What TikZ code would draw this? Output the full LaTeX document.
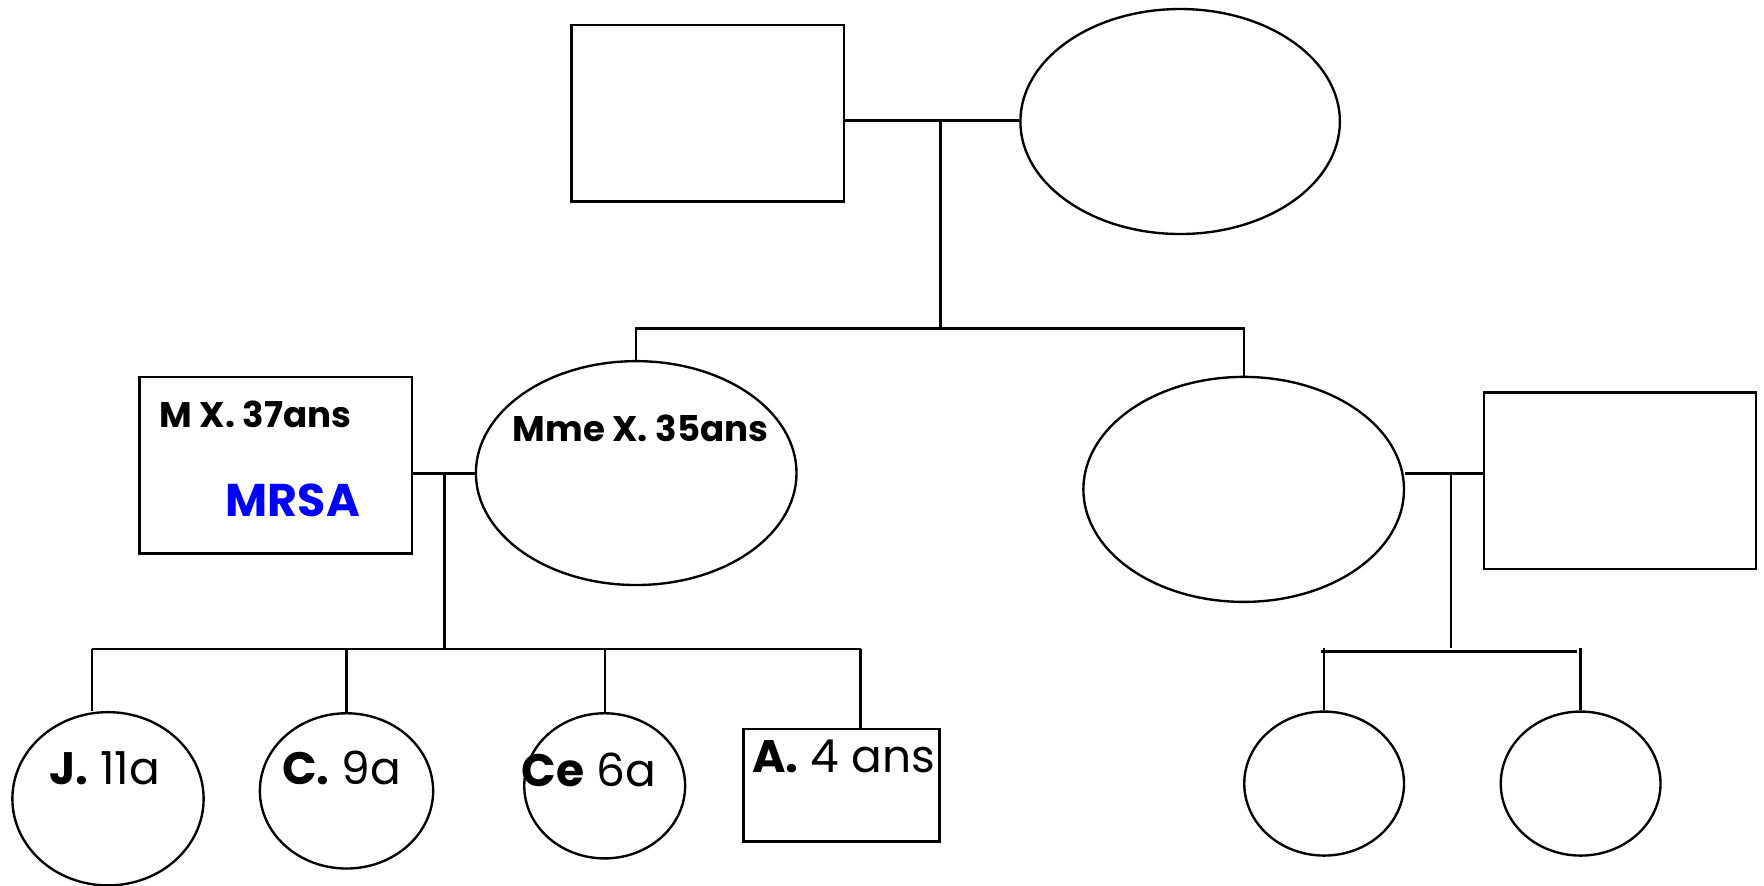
\documentclass[tikz,border=0pt]{standalone}
\usepackage{fontspec}
\setmainfont{Poppins}
\usetikzlibrary{shapes.geometric}
\tikzset{
  homme/.style={rectangle, draw=black, line width=0.6pt, inner sep=0pt},
  femme/.style={ellipse, draw=black, line width=0.6pt, inner sep=0pt},
  lien/.style={line width=0.6pt},
  nom/.style={anchor=base west, inner sep=0pt, font=\bfseries\fontsize{9}{11}\selectfont},
  enfant/.style={anchor=base west, inner sep=0pt, font=\fontsize{11.5}{13}\selectfont}
}
\begin{document}
\begin{tikzpicture}
\useasboundingbox (0,0) rectangle (15.68,-7.87);
% grands-parents
\node[homme, minimum width=2.42cm, minimum height=1.57cm] (gpere) at (6.29,-1.005) {};
\node[femme, minimum width=2.84cm, minimum height=2cm] (gmere) at (10.49,-1.08) {};
\coordinate (u1) at (8.36,-1.07);
\coordinate (f1) at (8.36,-2.92);
\draw[lien] (gpere.east |- u1) -- (gmere.west |- u1);
\draw[lien] (u1) -- (f1);
% couple X. et couple de droite
\node[homme, minimum width=2.42cm, minimum height=1.57cm] (mx) at (2.45,-4.135) {};
\node[femme, minimum width=2.85cm, minimum height=1.99cm] (mme) at (5.655,-4.205) {};
\node[femme, minimum width=2.85cm, minimum height=2cm] (tante) at (11.055,-4.35) {};
\node[homme, minimum width=2.42cm, minimum height=1.57cm] (oncle) at (14.40,-4.275) {};
\draw[lien] (mme.north) -- (mme.north |- f1) -- (tante.north |- f1) -- (tante.north);
\node[nom] (tmx) at (1.41,-3.80) {M X. 37ans};
\node[nom, font=\bfseries\fontsize{11.6}{13}\selectfont, text={rgb,255:red,0;green,0;blue,255}] (mrsa) at (2.00,-4.59) {MRSA};
\node[nom] (tmme) at (4.55,-3.92) {Mme X. 35ans};
\coordinate (u2) at (3.95,-4.21);
\coordinate (f2) at (3.95,-5.77);
\draw[lien] (mx.east |- u2) -- (mme.west |- u2);
\draw[lien] (u2) -- (f2);
\coordinate (u3) at (12.90,-4.21);
\coordinate (f3) at (12.90,-5.76);
\draw[lien] (tante.east |- u3) -- (oncle.west |- u3);
\draw[lien] (u3) -- (f3);
% enfants X.
\node[femme, minimum width=1.70cm, minimum height=1.54cm] (j) at (0.96,-7.10) {};
\node[femme, minimum width=1.54cm, minimum height=1.38cm] (c) at (3.08,-7.03) {};
\node[femme, minimum width=1.43cm, minimum height=1.29cm] (ce) at (5.375,-6.985) {};
\node[homme, minimum width=1.74cm, minimum height=1cm] (a) at (7.48,-6.98) {};
\coordinate (bj) at (0.82,-5.77);
\coordinate (ba) at (7.65,-5.77);
\draw[lien] (bj) -- (ba);
\draw[lien] (bj) -- (bj |- j.north);
\draw[lien] (c.north |- f2) -- (c.north);
\draw[lien] (ce.north |- f2) -- (ce.north);
\draw[lien] (ba) -- (ba |- a.north);
\node[enfant] (tj) at (0.43,-6.97) {\textbf{J.} 11a};
\node[enfant] (tc) at (2.50,-6.97) {\textbf{C.} 9a};
\node[enfant] (tce) at (4.63,-6.99) {\textbf{Ce} 6a};
\node[enfant] (ta) at (6.68,-6.87) {\textbf{A.} 4 ans};
% enfants de droite
\node[femme, minimum width=1.42cm, minimum height=1.28cm] (k1) at (11.77,-6.965) {};
\node[femme, minimum width=1.42cm, minimum height=1.28cm] (k2) at (14.05,-6.965) {};
\draw[lien] (11.74,-5.79) -- (14.02,-5.79);
\draw[lien] (k1.north |- f3) -- (k1.north);
\draw[lien] (k2.north |- f3) -- (k2.north);
\end{tikzpicture}
\end{document}
